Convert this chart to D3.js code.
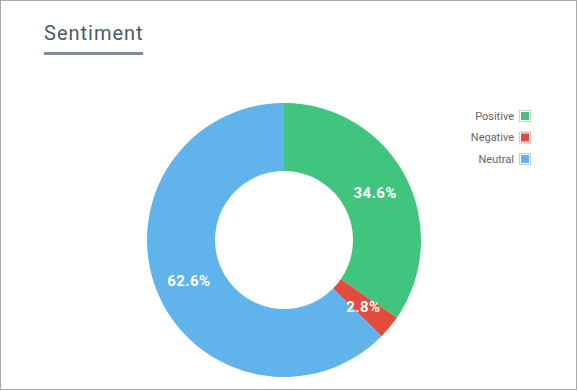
<!DOCTYPE html>
<html><head><meta charset="utf-8">
<script src="https://cdn.jsdelivr.net/npm/d3@7"></script>
<style>
html,body{margin:0;padding:0;background:#fff;}
svg{display:block;font-family:Roboto, "Noto Sans", sans-serif;}
</style></head>
<body>
<svg id="c" width="578" height="391"></svg>
<script>
const categories = ["Positive", "Negative", "Neutral"];
const values = [34.6, 2.8, 62.6];
const colors = ["#40c47e", "#e34b3d", "#60b3eb"];

const svg = d3.select("#c");
svg.append("rect").attr("x",0.5).attr("y",0.5).attr("width",576).attr("height",389)
  .attr("fill","#fff").attr("stroke","#aaaaaa").attr("stroke-width",1);

svg.append("text").attr("x",44).attr("y",40).text("Sentiment")
  .attr("font-size",20).attr("fill","#4b5a6b").attr("letter-spacing",1.0);
svg.append("rect").attr("x",44).attr("y",52).attr("width",99).attr("height",3).attr("fill","#7f8c9b");

const cx = 284, cy = 240, R = 137, r = 69;
const color = d3.scaleOrdinal().domain(categories).range(colors);
const pie = d3.pie().sort(null).value(d => d.v);
const data = categories.map((c,i)=>({c, v: values[i]}));
const arcs = pie(data);
const arc = d3.arc().innerRadius(r).outerRadius(R);
const g = svg.append("g").attr("transform",`translate(${cx},${cy})`);
g.selectAll("path").data(arcs).join("path").attr("d",arc).attr("fill",d=>color(d.data.c));
const labelArc = d3.arc().innerRadius((r+R)/2).outerRadius((r+R)/2);
g.selectAll("text").data(arcs).join("text")
  .attr("transform",d=>{const p=labelArc.centroid(d); return `translate(${p[0]},${p[1]+1})`;})
  .attr("text-anchor","middle").attr("dy","0.35em")
  .attr("fill","#fff").attr("font-size",15).attr("font-weight","bold").attr("letter-spacing",0.4)
  .text(d=>d.data.v.toFixed(1)+"%");

const lg = svg.append("g");
categories.forEach((c,i)=>{
  const y = 116 + i*21.5;
  lg.append("text").attr("x",514).attr("y",y).attr("dy","0.35em").attr("text-anchor","end")
    .attr("font-size",11).attr("fill","#666").text(c);
  lg.append("rect").attr("x",519.5).attr("y",y-5.5).attr("width",11).attr("height",11)
    .attr("fill",color(c)).attr("stroke","#cccccc").attr("stroke-width",1);
  lg.append("rect").attr("x",520.5).attr("y",y-4.5).attr("width",9).attr("height",9)
    .attr("fill","none").attr("stroke","#fff").attr("stroke-width",1);
});
</script>
</body></html>
